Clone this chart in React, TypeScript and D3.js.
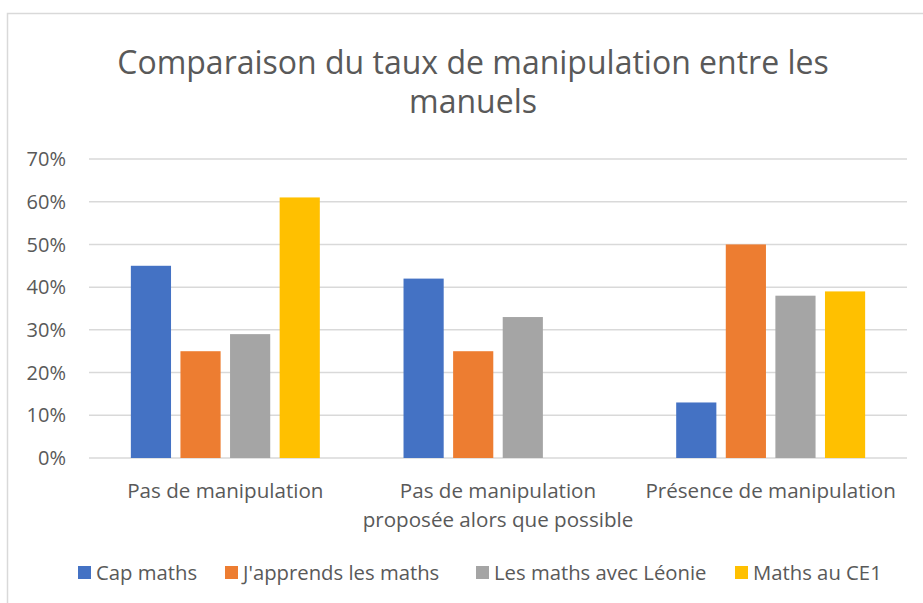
import React from "react";
import * as d3 from "d3";

const categories: string[][] = [
  ["Pas de manipulation"],
  ["Pas de manipulation", "proposée alors que possible"],
  ["Présence de manipulation"],
];
const seriesNames = ["Cap maths", "J'apprends les maths", "Les maths avec Léonie", "Maths au CE1"];
const seriesColors = ["#4472C4", "#ED7D31", "#A5A5A5", "#FFC000"];
const capMaths = [0.45, 0.42, 0.13];
const jApprends = [0.25, 0.25, 0.5];
const leonie = [0.29, 0.33, 0.38];
const mathsCE1 = [0.61, 0, 0.39];
const yTicks = [0, 0.1, 0.2, 0.3, 0.4, 0.5, 0.6, 0.7];
const titleLines = ["Comparaison du taux de manipulation entre les", "manuels"];

const W = 923;
const H = 603;
const plot = { left: 89, right: 907, top: 159, bottom: 458 };
const FONT = "'Open Sans', 'Noto Sans', sans-serif";
const TXT = "#595959";

export default function App() {
  const series = [capMaths, jApprends, leonie, mathsCE1];
  const x0 = d3
    .scaleBand<number>()
    .domain(categories.map((_, i) => i))
    .range([plot.left, plot.right])
    .paddingInner(0)
    .paddingOuter(0);
  const groupW = x0.bandwidth() * 0.693;
  const x1 = d3
    .scaleBand<number>()
    .domain(series.map((_, i) => i))
    .range([0, groupW])
    .paddingInner(0.19)
    .paddingOuter(0);
  const y = d3.scaleLinear().domain([0, 0.7]).range([plot.bottom, plot.top]);
  const fmt = d3.format(".0%");

  React.useEffect(() => {
    document.body.style.margin = "0";
  }, []);

  return (
    <svg width={W} height={H} style={{ display: "block", background: "#fff" }} fontFamily={FONT}>
      <rect x={7.5} y={13.5} width={1000} height={700} fill="#fff" stroke="#d9d9d9" strokeWidth={1.5} />
      {titleLines.map((t, i) => (
        <text key={i} x={(plot.left + plot.right) / 2 - 25} y={74 + i * 39} textAnchor="middle" fontSize={32} fill={TXT}>
          {t}
        </text>
      ))}
      {yTicks.map((t) => (
        <g key={t}>
          <line x1={plot.left} x2={plot.right} y1={y(t)} y2={y(t)} stroke="#d9d9d9" strokeWidth={1.5} />
          <text x={66} y={y(t)} dy="0.36em" textAnchor="end" fontSize={20} fill={TXT}>
            {fmt(t)}
          </text>
        </g>
      ))}
      {categories.map((lines, ci) => {
        const gx = x0(ci)! + (x0.bandwidth() - groupW) / 2;
        return (
          <g key={ci}>
            {series.map((s, si) =>
              s[ci] > 0 ? (
                <rect
                  key={si}
                  x={gx + x1(si)!}
                  y={y(s[ci])}
                  width={x1.bandwidth()}
                  height={y(0) - y(s[ci])}
                  fill={seriesColors[si]}
                />
              ) : null
            )}
            {lines.map((l, li) => (
              <text
                key={li}
                x={x0(ci)! + x0.bandwidth() / 2}
                y={498 + li * 29}
                textAnchor="middle"
                fontSize={20.6}
                fill={TXT}
              >
                {l}
              </text>
            ))}
          </g>
        );
      })}
      {(() => {
        const xs = [78, 225, 476, 735];
        return seriesNames.map((n, i) => (
          <g key={n}>
            <rect x={xs[i]} y={566} width={13} height={13} fill={seriesColors[i]} />
            <text x={xs[i] + 18} y={580} fontSize={20.3} fill={TXT}>
              {n}
            </text>
          </g>
        ));
      })()}
    </svg>
  );
}
